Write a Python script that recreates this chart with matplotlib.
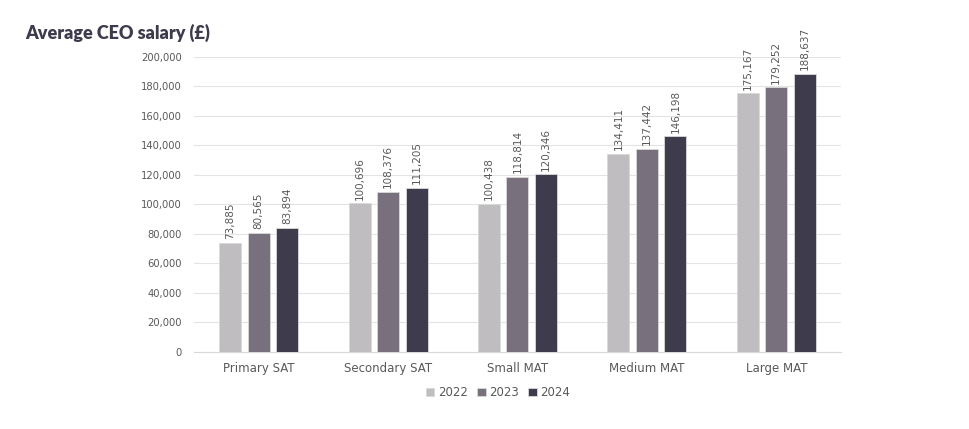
import numpy as np
import matplotlib
matplotlib.use('Agg')
import matplotlib.pyplot as plt

categories = ['Primary SAT', 'Secondary SAT', 'Small MAT', 'Medium MAT', 'Large MAT']
years = ['2022', '2023', '2024']
salary_2022 = [73885, 100696, 100438, 134411, 175167]
salary_2023 = [80565, 108376, 118814, 137442, 179252]
salary_2024 = [83894, 111205, 120346, 146198, 188637]

colors = ['#bfbdc0', '#78707c', '#3e3b4c']
series = [salary_2022, salary_2023, salary_2024]

plt.rcParams['font.family'] = ['DejaVu Sans']

fig = plt.figure(figsize=(9.7, 4.29), dpi=100)
ax = fig.add_axes([0.2, 0.1795, 0.667, 0.688])

x = np.arange(len(categories))
width = 0.17
step = 0.22
for i, (vals, col, yr) in enumerate(zip(series, colors, years)):
    pos = x + (i - 1) * step
    bars = ax.bar(pos, vals, width, color=col, edgecolor='#d9d9d9', linewidth=0.6,
                  label=yr, zorder=3)
    for b, v in zip(bars, vals):
        ax.text(b.get_x() + b.get_width() / 2, v + 2500, '{:,}'.format(v),
                rotation=90, ha='center', va='bottom', fontsize=7.5, color='#595959')

ax.set_xlim(-0.5, len(categories) - 0.5)
ax.set_ylim(0, 200000)
ax.set_yticks(np.arange(0, 200001, 20000))
ax.set_yticklabels(['{:,}'.format(v) for v in range(0, 200001, 20000)])
ax.set_xticks(x)
ax.set_xticklabels(categories)
ax.tick_params(axis='y', length=0, labelsize=7.2, labelcolor='#595959', pad=9)
ax.tick_params(axis='x', length=0, labelsize=8.5, labelcolor='#595959', pad=7)
ax.grid(axis='y', color='#e3e3e3', linewidth=0.8, zorder=0)
for s in ['top', 'right', 'left']:
    ax.spines[s].set_visible(False)
ax.spines['bottom'].set_color('#d9d9d9')

ax.legend(loc='center', bbox_to_anchor=(0.47, -0.138), ncol=3, frameon=False,
          fontsize=8.5, handlelength=0.7, handleheight=0.7, handletextpad=0.3,
          columnspacing=0.8, labelcolor='#595959')

fig.text(0.026, 0.923, 'Average CEO salary (£)', fontsize=13, fontweight='heavy',
         family=['Lato', 'DejaVu Sans'], color='#3e3b4c', va='center')

fig.savefig('out.png', dpi=100)
